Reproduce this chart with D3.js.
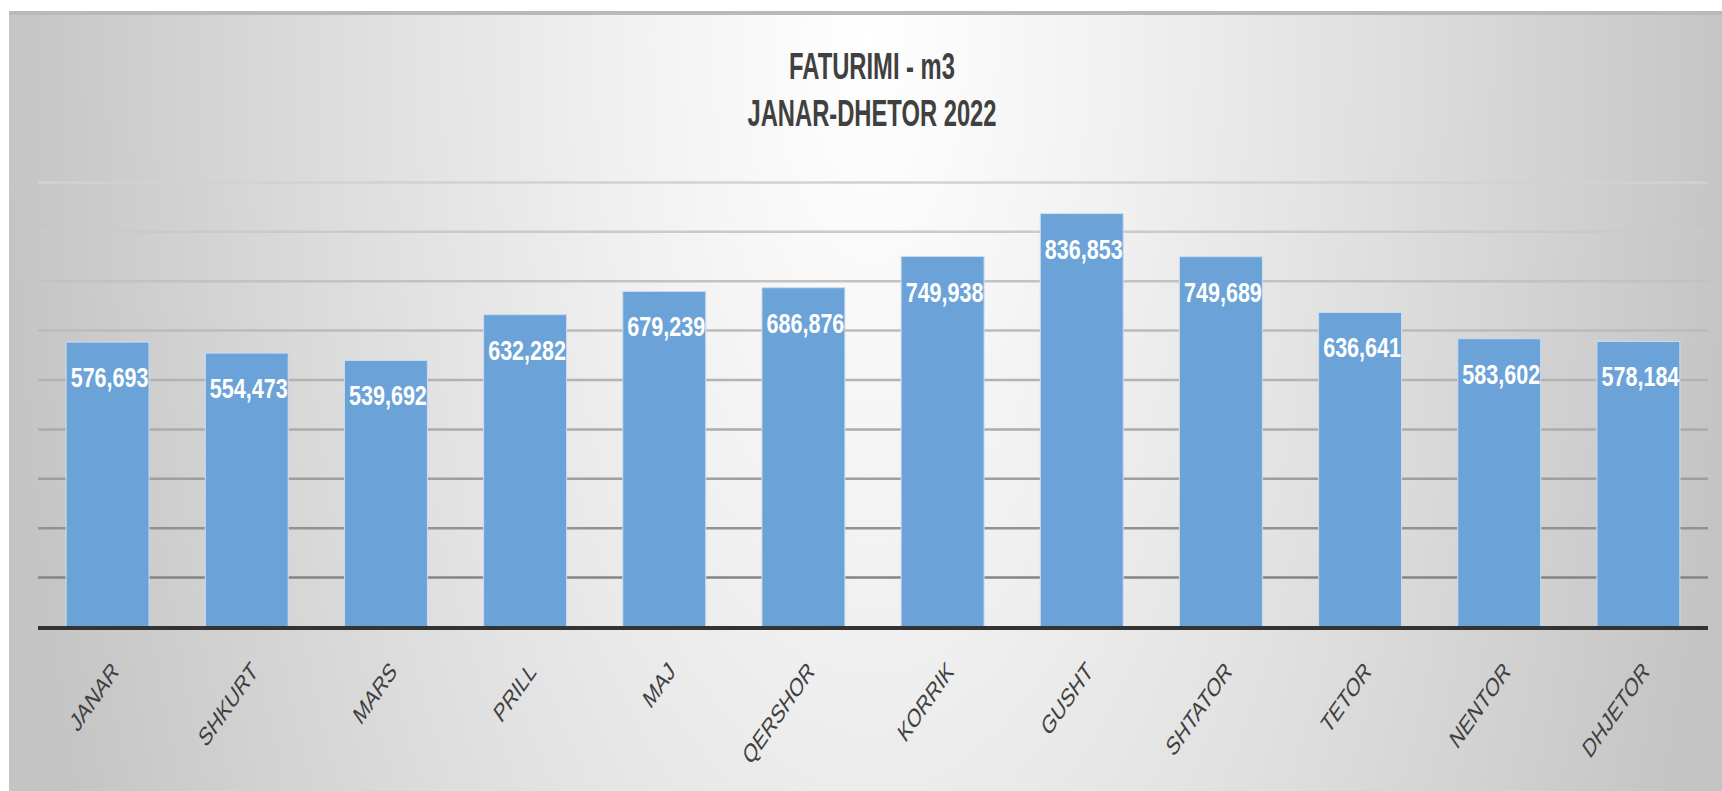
<!DOCTYPE html>
<html>
<head>
<meta charset="utf-8">
<script src="https://cdn.jsdelivr.net/npm/d3@7"></script>
<style>
  html, body { margin: 0; padding: 0; background: #ffffff; }
  svg { display: block; }
</style>
</head>
<body>
<div id="chart"></div>
<script>
var months = ["JANAR", "SHKURT", "MARS", "PRILL", "MAJ", "QERSHOR",
              "KORRIK", "GUSHT", "SHTATOR", "TETOR", "NENTOR", "DHJETOR"];
var values = [576693, 554473, 539692, 632282, 679239, 686876,
              749938, 836853, 749689, 636641, 583602, 578184];
var gridTicks = [100000, 200000, 300000, 400000, 500000, 600000, 700000, 800000, 900000];
var titleLines = ["FATURIMI - m3", "JANAR-DHETOR 2022"];

var dim = { 'width': 1722, 'height': 791 };
var plot = { left: 38, right: 1708, top: 182.4, bottom: 627 };
// the source picture is squeezed sideways, so text gets a horizontal scale
var squeeze = 0.7;

var svg = d3.select("#chart").append("svg")
    .attr("width", dim.width)
    .attr("height", dim.height);

var defs = svg.append("defs");
var bg = defs.append("radialGradient")
    .attr("id", "bgGrad")
    .attr("gradientUnits", "userSpaceOnUse")
    .attr("cx", 0).attr("cy", 0).attr("r", 1)
    .attr("gradientTransform", "translate(870,40) scale(870,2000)");
bg.append("stop").attr("offset", 0).attr("stop-color", "#ffffff");
bg.append("stop").attr("offset", 0.3).attr("stop-color", "#f0f0f0");
bg.append("stop").attr("offset", 0.6).attr("stop-color", "#dedede");
bg.append("stop").attr("offset", 1).attr("stop-color", "#c4c4c4");

// chart area background + frame
svg.append("rect")
    .attr("x", 9).attr("y", 11)
    .attr("width", dim.width - 9).attr("height", dim.height - 11)
    .attr("fill", "url(#bgGrad)");
svg.append("line")
    .attr("x1", 9).attr("x2", dim.width).attr("y1", 13).attr("y2", 13)
    .attr("stroke", "#b9b9b9").attr("stroke-width", 4);

var x = d3.scaleBand()
    .domain(months)
    .range([plot.left, plot.right])
    .paddingInner(0.404)
    .paddingOuter(0.202);

var y = d3.scaleLinear()
    .domain([0, 900000])
    .range([plot.bottom, plot.top]);

var gridColor = d3.scaleLinear()
    .domain([900000, 400000, 100000])
    .range(["#d2d2d2", "#ababab", "#858585"]);

// gridlines
svg.append("g").attr("class", "grid")
    .selectAll("line")
    .data(gridTicks).enter()
    .append("line")
    .attr("x1", plot.left).attr("x2", plot.right)
    .attr("y1", d => y(d)).attr("y2", d => y(d))
    .attr("stroke", d => gridColor(d))
    .attr("stroke-width", 2.5);

// bars
svg.append("g").attr("class", "bars")
    .selectAll("rect")
    .data(values).enter()
    .append("rect")
    .attr("x", (d, i) => x(months[i]))
    .attr("y", d => y(d))
    .attr("width", x.bandwidth())
    .attr("height", d => y(0) - y(d))
    .attr("fill", "#6ba3d8")
    .attr("stroke", "#c9ddf1")
    .attr("stroke-width", 1);

// axis line
svg.append("line")
    .attr("x1", plot.left).attr("x2", plot.right)
    .attr("y1", y(0) + 1).attr("y2", y(0) + 1)
    .attr("stroke", "#333333").attr("stroke-width", 4);

// value labels
svg.append("g").attr("class", "values")
    .selectAll("text")
    .data(values).enter()
    .append("text")
    .attr("transform", (d, i) =>
        `translate(${x(months[i]) + x.bandwidth() / 2 + 2},${y(d) + 45}) scale(0.77,1)`)
    .attr("text-anchor", "middle")
    .attr("font-family", "'Liberation Sans', Arial, sans-serif")
    .attr("font-weight", "bold")
    .attr("font-size", 28)
    .attr("fill", "#ffffff")
    .text(d => d3.format(",")(d));

// category labels
svg.append("g").attr("class", "xlabels")
    .selectAll("text")
    .data(months).enter()
    .append("text")
    .attr("transform", d =>
        `translate(${x(d) + x.bandwidth() / 2 + 12},673) scale(${squeeze},1) rotate(-45)`)
    .attr("text-anchor", "end")
    .attr("font-family", "'Liberation Sans', Arial, sans-serif")
    .attr("font-size", 26)
    .attr("fill", "#404040")
    .text(d => d);

// title
svg.append("g").attr("class", "title")
    .selectAll("text")
    .data(titleLines).enter()
    .append("text")
    .attr("transform", (d, i) => `translate(872,${79 + i * 47}) scale(0.66,1)`)
    .attr("text-anchor", "middle")
    .attr("font-family", "'Liberation Sans', Arial, sans-serif")
    .attr("font-weight", "bold")
    .attr("font-size", 36)
    .attr("fill", "#404040")
    .text(d => d);
</script>
</body>
</html>
